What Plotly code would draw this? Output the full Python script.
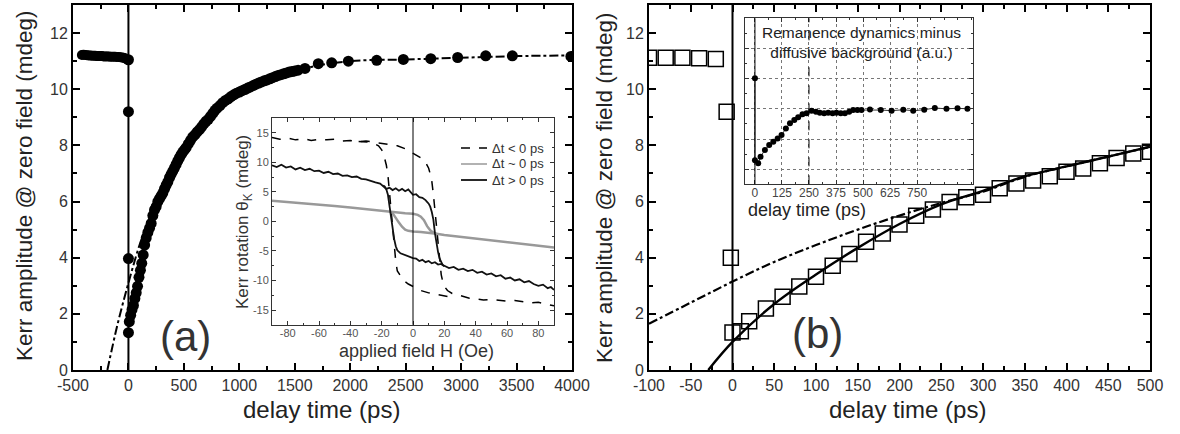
import plotly.graph_objects as go

W, H = 1180, 434
def px(x): return x / W
def py(y): return 1 - y / H

FONT = "Liberation Sans, Arial, sans-serif"

# ---------------- Panel (a): main data ----------------
t_a_pre = [-420, -405, -390, -375, -360, -345, -330, -315, -300, -285, -270, -255, -240, -225,
           -210, -195, -180, -165, -150, -135, -120, -105, -90, -75, -60, -45, -30, -15]
v_a_pre = [11.22, 11.23, 11.22, 11.21, 11.20, 11.20, 11.19, 11.19, 11.19, 11.18, 11.18, 11.18, 11.18, 11.17,
           11.17, 11.17, 11.17, 11.16, 11.16, 11.16, 11.16, 11.15, 11.15, 11.14, 11.13, 11.12, 11.10, 11.07]
t_a_zero = [0, 0, 0, 0]
v_a_zero = [11.05, 9.2, 3.97, 1.33]
t_a_rise = [8, 20, 32, 45, 58, 70, 82, 95, 108, 120, 133, 146, 160, 175, 190, 205, 220, 235, 250, 265,
            280, 295, 310, 325, 340, 355, 370, 385, 400, 415, 430, 445, 460, 475, 490, 505, 520, 540,
            560, 580, 600, 620, 640, 660, 680, 700, 720, 740, 760, 780, 800, 825, 850, 875, 900, 925,
            950, 975, 1000, 1025, 1050, 1075, 1100, 1125, 1150, 1175, 1200, 1225, 1250, 1275, 1300,
            1325, 1350, 1375, 1400, 1425, 1450, 1475, 1500, 1530]
v_a_rise = [1.72, 1.95, 2.15, 2.30, 2.55, 2.75, 2.98, 3.30, 3.55, 3.80, 4.10, 4.45, 4.70, 4.90, 5.05, 5.22,
            5.50, 5.70, 5.82, 6.00, 6.10, 6.20, 6.30, 6.45, 6.58, 6.70, 6.85, 6.97, 7.08, 7.20, 7.32, 7.45,
            7.56, 7.67, 7.76, 7.84, 7.92, 8.05, 8.18, 8.30, 8.38, 8.48, 8.56, 8.66, 8.77, 8.86, 8.93, 9.03,
            9.14, 9.25, 9.33, 9.42, 9.52, 9.60, 9.66, 9.74, 9.80, 9.86, 9.90, 9.95, 9.99, 10.04, 10.08,
            10.13, 10.18, 10.22, 10.26, 10.30, 10.33, 10.37, 10.41, 10.45, 10.49, 10.52, 10.55, 10.58,
            10.61, 10.63, 10.65, 10.68]
t_a_late = [1592, 1712, 1833, 1983, 2239, 2479, 2726, 2969, 3222, 3462, 3990]
v_a_late = [10.74, 10.91, 10.94, 11.00, 11.03, 11.06, 11.09, 11.13, 11.19, 11.19, 11.17]
# dash-dot fit curve (a)
t_a_fit = [-190, -100, 0, 100, 200, 300, 500, 800, 1200, 1600, 2000, 2500, 3000, 3500, 4000]
v_a_fit = [0.0, 1.6, 3.1, 4.45, 5.5, 6.35, 7.8, 9.3, 10.25, 10.75, 11.0, 11.06, 11.12, 11.18, 11.2]
a_xticks = [-500, 0, 500, 1000, 1500, 2000, 2500, 3000, 3500, 4000]
main_yticks = [0, 2, 4, 6, 8, 10, 12]

# ---------------- Panel (a) inset: hysteresis loops ----------------
H_neg_up = [-90, -85, -80, -75, -70, -65, -60, -55, -50, -45, -40, -35, -30, -25, -20, -15, -10, -5, 0, 3, 6,
            8, 10, 11, 12, 13, 14, 15, 16, 17, 18, 19, 20, 22, 25, 28, 32, 36, 40, 45, 50, 55, 60, 65, 70,
            75, 80, 85, 90]
M_neg_up = [14.2, 13.9, 14.1, 13.8, 14.0, 13.7, 13.9, 13.8, 13.9, 13.6, 13.7, 13.5, 13.6, 13.4, 13.3, 13.1,
            12.8, 12.3, 11.5, 11.1, 10.6, 10.0, 9.0, 8.0, 6.8, 4.6, 1.9, -1.3, -4.5, -7.1, -9.0, -10.2,
            -11.0, -11.7, -12.2, -12.4, -12.7, -13.0, -13.1, -13.3, -13.2, -13.4, -13.5, -13.4, -13.6,
            -13.8, -13.7, -14.0, -14.3]
H_neg_dn = [22, 20, 15, 10, 5, 0, -3, -6, -8, -10, -11, -12, -13, -14, -15, -16, -17, -18, -19, -20, -22,
            -25, -28, -32, -36, -40]
M_neg_dn = [-12.7, -12.6, -12.4, -12.1, -11.7, -11.05, -10.6, -10.0, -9.3, -8.4, -6.8, -4.0, -0.9, 2.5, 5.5,
            7.8, 9.5, 10.7, 11.6, 12.1, 12.8, 13.2, 13.4, 13.5, 13.6, 13.6]

H_zero_up = [-90, -80, -70, -60, -50, -40, -30, -20, -15, -10, -5, 0, 3, 5, 7, 9, 11, 13, 15, 20, 30, 40, 50,
             60, 70, 80, 90]
M_zero_up = [3.5, 3.3, 3.05, 2.8, 2.6, 2.35, 2.05, 1.8, 1.65, 1.5, 1.4, 1.3, 1.1, 0.8, 0.2, -0.8, -1.5, -1.9,
             -2.1, -2.3, -2.6, -2.9, -3.2, -3.5, -3.8, -4.1, -4.4]
H_zero_dn = [15, 10, 5, 0, -3, -5, -7, -9, -11, -13, -15]
M_zero_dn = [-2.1, -1.9, -1.8, -1.7, -1.6, -1.4, -0.9, -0.2, 0.7, 1.4, 1.65]

H_pos_up = [-90, -87, -84, -81, -78, -75, -72, -69, -66, -63, -60, -57, -54, -51, -48, -45, -42, -39, -36,
            -33, -30, -27, -24, -21, -19, -17, -15, -13, -11, -9, -7, -5, -3, -1, 0, 2, 4, 6, 8, 10, 11,
            12, 13, 14, 15, 16, 17, 18, 19, 20, 23, 26, 29, 32, 35, 38, 41, 44, 47, 50, 53, 56, 59, 62,
            65, 68, 71, 74, 77, 80, 83, 86, 88, 90]
M_pos_up = [9.5, 9.2, 9.6, 9.1, 9.3, 8.8, 9.1, 8.7, 8.9, 8.5, 8.6, 8.2, 8.4, 8.0, 8.1, 7.7, 7.8, 7.5, 7.6,
            7.2, 7.1, 6.8, 6.6, 6.4, 6.0, 5.5, 5.7, 5.3, 5.6, 5.2, 5.5, 5.1, 5.4, 4.7, 4.5, 4.6, 4.1, 4.0,
            3.6, 3.0, 2.5, 1.6, 0.3, -2.0, -3.8, -5.2, -6.3, -7.0, -7.4, -7.5, -7.9, -7.7, -8.2, -8.0,
            -8.4, -8.2, -8.7, -8.5, -9.0, -8.8, -9.3, -9.1, -9.7, -9.5, -10.0, -9.8, -10.3, -10.1, -10.6,
            -10.9, -10.7, -11.3, -11.1, -11.6]
H_pos_dn = [20, 18, 16, 14, 12, 10, 8, 6, 4, 2, 0, -2, -4, -6, -8, -10, -11, -12, -13, -14, -15, -16, -17,
            -18, -19]
M_pos_dn = [-7.6, -7.2, -7.3, -6.9, -7.1, -6.7, -6.9, -6.5, -6.7, -6.3, -6.2, -6.0, -5.9, -5.6, -5.4, -4.9,
            -4.2, -3.0, -1.0, 1.0, 3.0, 4.5, 5.4, 5.9, 6.1]
ins_xticks = [-80, -60, -40, -20, 0, 20, 40, 60, 80]
ins_yticks = [-15, -10, -5, 0, 5, 10, 15]
legend_labels = ["\u0394t < 0 ps", "\u0394t ~ 0 ps", "\u0394t > 0 ps"]

# ---------------- Panel (b): main data ----------------
t_b = [-100, -80, -60, -40, -20, -7, -2, 0, 10, 20, 40, 60, 80, 100, 120, 140, 160, 180, 200, 220, 240,
       260, 280, 300, 320, 340, 360, 380, 400, 420, 440, 460, 480, 500]
v_b = [11.12, 11.12, 11.12, 11.1, 11.08, 9.2, 4.0, 1.34, 1.38, 1.74, 2.19, 2.61, 2.97, 3.32, 3.71, 4.13,
       4.57, 4.86, 5.18, 5.49, 5.72, 5.98, 6.15, 6.24, 6.47, 6.64, 6.75, 6.90, 7.06, 7.18, 7.36, 7.55,
       7.71, 7.77]
t_b_fit = [-29, 0, 50, 100, 150, 200, 250, 300, 350, 400, 450, 500]
v_b_fit = [0.0, 1.0, 2.35, 3.4, 4.35, 5.2, 5.9, 6.38, 6.9, 7.25, 7.6, 7.95]
t_b_fit2 = [-100, -50, 0, 50, 100, 150, 200, 250, 300, 350, 400, 450, 500]
v_b_fit2 = [1.65, 2.4, 3.15, 3.85, 4.45, 5.0, 5.5, 5.95, 6.35, 6.88, 7.25, 7.6, 7.95]
b_xticks = [-100, -50, 0, 50, 100, 150, 200, 250, 300, 350, 400, 450, 500]

# ---------------- Panel (b) inset ----------------
t_rem = [0, 0, 15, 26, 46, 66, 85, 105, 123, 143, 162, 182, 200, 220, 239, 262, 282, 300, 320, 339, 359,
         377, 397, 416, 436, 454, 474, 493, 532, 582, 632, 686, 732, 783, 832, 886, 937, 983]
v_rem = [4.01, 1.30, 1.20, 1.41, 1.64, 1.80, 1.91, 2.02, 2.13, 2.35, 2.52, 2.63, 2.72, 2.82, 2.85, 2.94,
         2.90, 2.87, 2.85, 2.87, 2.85, 2.87, 2.85, 2.85, 2.90, 2.96, 2.96, 2.96, 2.98, 2.96, 2.94, 2.97,
         2.94, 2.97, 3.03, 3.00, 3.02, 3.00]
rem_ticks = [0, 125, 250, 375, 500, 625, 750]
rem_extra_grid = [875]


def lab(v):
    return ("-" + str(abs(v))) if v < 0 else str(v)


fig = go.Figure()

# ---- (a) main
fig.add_trace(go.Scatter(x=t_a_fit, y=v_a_fit, mode="lines", line=dict(color="black", width=2, dash="dashdot"),
                         line_shape="spline", showlegend=False, xaxis="x", yaxis="y"))
for tx, vy, sz in [(t_a_pre, v_a_pre, 10), (t_a_zero, v_a_zero, 11), (t_a_rise, v_a_rise, 11),
                   (t_a_late, v_a_late, 11)]:
    fig.add_trace(go.Scatter(x=tx, y=vy, mode="markers", marker=dict(size=sz, color="black"),
                             showlegend=False, xaxis="x", yaxis="y"))

# ---- (a) inset
neg_line = dict(color="black", width=1.5, dash="dash")
zero_line = dict(color="#999999", width=2.5)
pos_line = dict(color="#111111", width=1.8)
for hx, my, ln in [(H_neg_up, M_neg_up, neg_line), (H_neg_dn, M_neg_dn, neg_line),
                   (H_zero_up, M_zero_up, zero_line), (H_zero_dn, M_zero_dn, zero_line),
                   (H_pos_up, M_pos_up, pos_line), (H_pos_dn, M_pos_dn, pos_line)]:
    fig.add_trace(go.Scatter(x=hx, y=my, mode="lines", line=ln, showlegend=False, xaxis="x3", yaxis="y3"))

# ---- (b) main
fig.add_trace(go.Scatter(x=t_b_fit2, y=v_b_fit2, mode="lines", line=dict(color="black", width=2.2, dash="dashdot"),
                         line_shape="spline", showlegend=False, xaxis="x2", yaxis="y2"))
fig.add_trace(go.Scatter(x=t_b, y=v_b, mode="markers",
                         marker=dict(symbol="square-open", size=15, color="black", line=dict(width=1.5)),
                         showlegend=False, xaxis="x2", yaxis="y2"))
fig.add_trace(go.Scatter(x=t_b_fit, y=v_b_fit, mode="lines", line=dict(color="black", width=2.4),
                         line_shape="spline", showlegend=False, xaxis="x2", yaxis="y2"))

# ---- (b) inset
fig.add_trace(go.Scatter(x=t_rem, y=v_rem, mode="lines+markers", line=dict(color="#333", width=1),
                         marker=dict(size=6, color="black"), showlegend=False, xaxis="x4", yaxis="y4"))

main_ax = dict(showline=True, linewidth=2, linecolor="black", mirror="ticks", ticks="inside",
               ticklen=7, tickwidth=2, tickcolor="black", showgrid=False, zeroline=False, automargin=False,
               tickfont=dict(size=16, color="#333", family=FONT))
ins_ax = dict(showline=True, linewidth=1, linecolor="#333", mirror="ticks", ticks="inside",
              ticklen=4, tickwidth=1, tickcolor="#333", zeroline=False, automargin=False,
              tickfont=dict(size=11, color="#555", family=FONT))

fig.update_layout(
    width=W, height=H, margin=dict(l=0, r=0, t=0, b=0),
    paper_bgcolor="white", plot_bgcolor="white", showlegend=False,
    font=dict(family=FONT, color="#222"),
    xaxis=dict(main_ax, domain=[px(73), px(572)], range=[-500, 4000], tickvals=a_xticks,
               ticktext=[lab(v) for v in a_xticks],
               minor=dict(ticks="inside", ticklen=4, tickwidth=1.5, dtick=250, tick0=0, tickcolor="black"),
               anchor="y"),
    yaxis=dict(main_ax, domain=[py(370), py(5)], range=[0, 13], tickvals=main_yticks,
               ticktext=[lab(v) for v in main_yticks],
               minor=dict(ticks="inside", ticklen=4, tickwidth=1.5, dtick=1, tick0=0, tickcolor="black"),
               anchor="x"),
    xaxis2=dict(main_ax, domain=[px(649), px(1150)], range=[-100, 500], tickvals=b_xticks,
                ticktext=[lab(v) for v in b_xticks],
                minor=dict(ticks="inside", ticklen=4, tickwidth=1.5, dtick=25, tick0=0, tickcolor="black"),
                anchor="y2"),
    yaxis2=dict(main_ax, domain=[py(370), py(5)], range=[0, 13], tickvals=main_yticks,
                ticktext=[lab(v) for v in main_yticks],
                minor=dict(ticks="inside", ticklen=4, tickwidth=1.5, dtick=1, tick0=0, tickcolor="black"),
                anchor="x2"),
    xaxis3=dict(ins_ax, domain=[px(272), px(554)], range=[-90, 90], tickvals=ins_xticks,
                ticktext=[lab(v) for v in ins_xticks], showgrid=False, ticklabelstandoff=-2,
                minor=dict(ticks="inside", ticklen=2, dtick=10, tick0=0, tickcolor="#333"), anchor="y3"),
    yaxis3=dict(ins_ax, domain=[py(324.8), py(118)], range=[-17.5, 17.5], tickvals=ins_yticks,
                ticktext=[lab(v) for v in ins_yticks], showgrid=False,
                minor=dict(ticks="inside", ticklen=2, dtick=2.5, tick0=0, tickcolor="#333"), anchor="x3"),
    xaxis4=dict(ins_ax, domain=[px(745), px(973.3)], range=[-46, 1010], tickvals=rem_ticks,
                ticktext=[lab(v) for v in rem_ticks], showgrid=True, gridcolor="#777", griddash="dot",
                gridwidth=1, tickfont=dict(size=12, color="#444", family=FONT), ticklabelstandoff=-3,
                minor=dict(ticks="inside", ticklen=2, dtick=62.5, tick0=0, tickcolor="#333"), anchor="y4"),
    yaxis4=dict(ins_ax, domain=[py(184.3), py(18.3)], range=[0.5, 6.0], dtick=1, tick0=0,
                showticklabels=False, showgrid=True, gridcolor="#777", griddash="dot", gridwidth=1,
                minor=dict(ticks="inside", ticklen=2, dtick=0.5, tickcolor="#333"), anchor="x4"),
)

shapes = [
    dict(type="line", xref="x", yref="y domain", x0=0, x1=0, y0=0, y1=1, line=dict(color="black", width=2)),
    dict(type="line", xref="x2", yref="y2 domain", x0=0, x1=0, y0=0, y1=1, line=dict(color="black", width=2)),
    dict(type="line", xref="x3", yref="y3 domain", x0=0, x1=0, y0=0, y1=1, line=dict(color="black", width=1)),
    dict(type="line", xref="x4", yref="y4 domain", x0=0, x1=0, y0=0, y1=1, line=dict(color="black", width=1)),
    dict(type="line", xref="x4", yref="y4 domain", x0=250, x1=250, y0=0, y1=1,
         line=dict(color="black", width=1, dash="dash")),
]
for g in rem_extra_grid:
    shapes.append(dict(type="line", xref="x4", yref="y4 domain", x0=g, x1=g, y0=0, y1=1,
                       line=dict(color="#777", width=1, dash="dot"), layer="below"))
# inset legend samples
leg_rows = [148, 164, 180]
leg_lines = [neg_line, dict(color="#999999", width=1.5), dict(color="#111111", width=1.8)]
for yy, ln in zip(leg_rows, leg_lines):
    shapes.append(dict(type="line", xref="paper", yref="paper", x0=px(461), x1=px(487), y0=py(yy), y1=py(yy),
                       line=ln))
fig.update_layout(shapes=shapes)

ann = [
    dict(text="delay time (ps)", x=px(322), y=py(409), font=dict(size=24, color="#222")),
    dict(text="delay time (ps)", x=px(907), y=py(409), font=dict(size=24, color="#222")),
    dict(text="Kerr amplitude @ zero field (mdeg)", x=px(24), y=py(186), textangle=-90,
         font=dict(size=22.5, color="#222")),
    dict(text="Kerr amplitude @ zero field (mdeg)", x=px(604), y=py(188), textangle=-90,
         font=dict(size=22.5, color="#222")),
    dict(text="(a)", x=px(185), y=py(336), font=dict(size=42, color="#333")),
    dict(text="(b)", x=px(818), y=py(333), font=dict(size=42, color="#333")),
    dict(text="applied field H (Oe)", x=px(416), y=py(351), font=dict(size=18, color="#333")),
    dict(text="Kerr rotation \u03b8<sub>K</sub> (mdeg)", x=px(244), y=py(222), textangle=-90,
         font=dict(size=17, color="#333")),
    dict(text="Remanence dynamics minus<br>diffusive background (a.u.)", x=px(861), y=py(43),
         font=dict(size=15.5, color="#222")),
    dict(text="delay time (ps)", x=px(807), y=py(210), font=dict(size=18, color="#222")),
]
for a in ann:
    a.update(xanchor="center")
for yy, txt in zip(leg_rows, legend_labels):
    ann.append(dict(text=txt, x=px(490), y=py(yy), xanchor="left", font=dict(size=13, color="#333")))
for a in ann:
    a.update(xref="paper", yref="paper", showarrow=False, yanchor="middle")
fig.update_layout(annotations=ann)

fig.write_html("out.html")
